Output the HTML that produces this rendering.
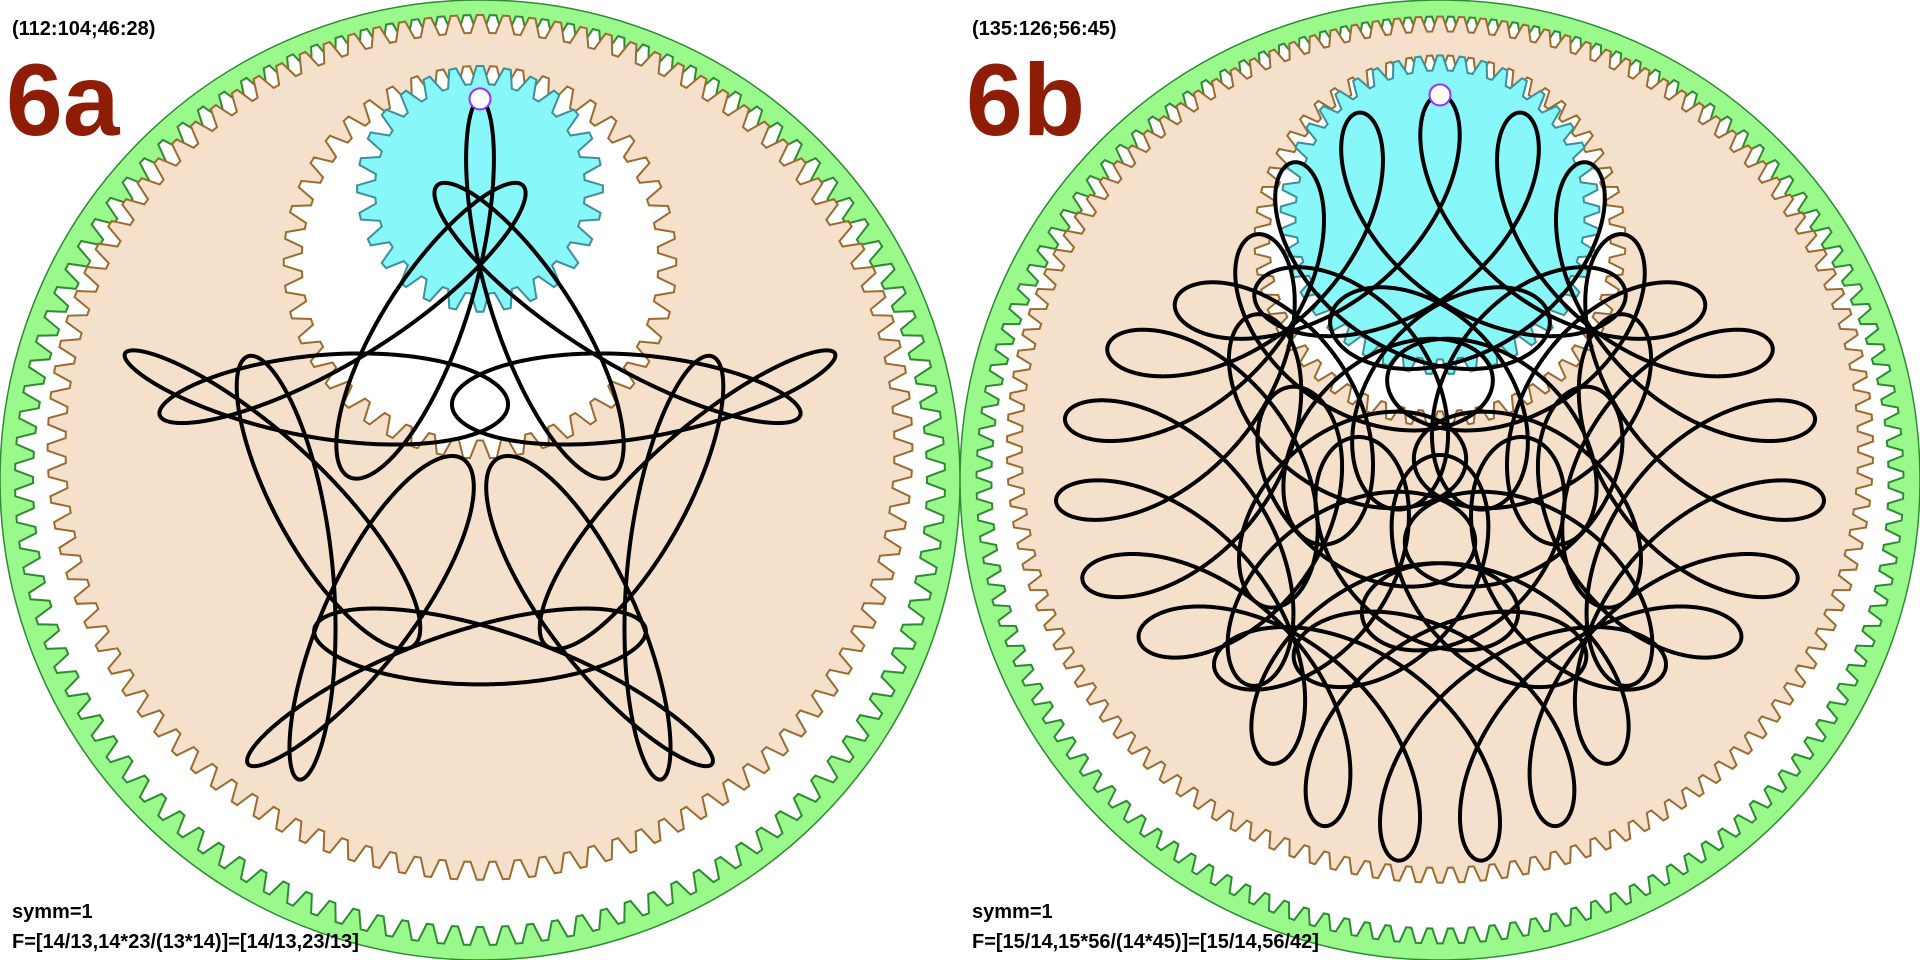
<!DOCTYPE html>
<html><head><meta charset="utf-8">
<style>
html,body{margin:0;padding:0;background:#fff;}
#wrap{position:relative;width:1920px;height:960px;overflow:hidden;}
svg{position:absolute;top:0;}
.lbl{font-family:"Liberation Sans",sans-serif;font-weight:bold;fill:#000;}
.big{font-family:"Liberation Sans",sans-serif;font-weight:bold;fill:#8f1d05;}
</style></head>
<body>
<div id="wrap">
<svg id="pa" width="960" height="960" style="left:0"></svg>
<svg id="pb" width="960" height="960" style="left:960px"></svg>
</div>
<script>
// teeth counts [ring, wheel, hole, pinion]
const teethA = [112, 104, 46, 28];
const teethB = [135, 126, 56, 45];
// frequency ratios F
const freqA = [14/13, 23/13];
const freqB = [15/14, 56/42];
// gear layout [hole eccentricity, pen distance, pinion offset, hole radius] in tooth units
const armsA = [45.5, 22.1, 18, 46];
const armsB = [61.8, 35.5, 7.7, 52.7];
// curve amplitudes [fast arm, slow arm, pen arm] in tooth units
const curveA = [26.0, 45.8, 21.6];
const curveB = [25.2, 53.3, 35.5];
const periodA = 13;
const periodB = 42;
const titleA = "(112:104;46:28)";
const titleB = "(135:126;56:45)";
const nameA = "6a";
const nameB = "6b";
const formulaA = "F=[14/13,14*23/(13*14)]=[14/13,23/13]";
const formulaB = "F=[15/14,15*56/(14*45)]=[15/14,56/42]";

const NS = "http://www.w3.org/2000/svg";
function mk(svg, tag, attrs){
  const e = document.createElementNS(NS, tag);
  for (const k in attrs) e.setAttribute(k, attrs[k]);
  svg.appendChild(e);
  return e;
}
function gearPts(cx, cy, r, n, h, inward){
  const pts = [];
  for (let i = 0; i < n; i++){
    const base = (i / n) * 2 * Math.PI - Math.PI/2;
    const fr = [0, 0.25, 0.5, 0.75];
    const rr = [r - h, r + h, r + h, r - h];
    for (let j = 0; j < 4; j++){
      const a = base + fr[j] * 2 * Math.PI / n - Math.PI / n * 0.75;
      const R = inward ? (2*r - rr[j]) : rr[j];
      pts.push((cx + R*Math.cos(a)).toFixed(2) + "," + (cy + R*Math.sin(a)).toFixed(2));
    }
  }
  return pts.join(" ");
}
function panel(svg, teeth, F, arms, curve, period, title, nm, formula){
  const cx = 480, cy = 480;
  const s = 456 / teeth[0];
  const h = 2.2 * s;
  const A = (teeth[0] - teeth[1]) * s;
  const E = arms[0] * s;
  const d = arms[1] * s;
  const B = arms[2] * s;
  const holeR = arms[3] * s;
  const pinR = holeR - B;
  let el;
  el = mk(svg, "circle", {cx:cx, cy:cy, r:480, fill:"#99f98b", stroke:"#2f8a34", "stroke-width":1.5});
  
  
  el = mk(svg, "polygon", {points:gearPts(cx, cy, teeth[0]*s, teeth[0], h, true), fill:"#ffffff", stroke:"#2f8a34", "stroke-width":2});
  
  
  const tcy = cy - A;
  el = mk(svg, "polygon", {points:gearPts(cx, tcy, teeth[1]*s, teeth[1], h, false), fill:"#f5e1cb", stroke:"#9c6b2e", "stroke-width":2});
  
  
  const hcy = tcy - E;
  el = mk(svg, "polygon", {points:gearPts(cx, hcy, holeR, teeth[2], h, true), fill:"#ffffff", stroke:"#9c6b2e", "stroke-width":2});
  
  
  const pcy = hcy - B;
  el = mk(svg, "polygon", {points:gearPts(cx, pcy, pinR, teeth[3], h, false), fill:"#88f7f9", stroke:"#3d8f9a", "stroke-width":2});
  
  
  // curve
  const c1 = curve[0]*s, c2 = curve[1]*s, c3 = curve[2]*s;
  const w1 = 1, w2 = 1 - F[0], w3 = 1 - F[1];
  const N = period * 400;
  const T = 2 * Math.PI * period;
  let dstr = "";
  for (let i = 0; i <= N; i++){
    const u = T * i / N;
    const a1 = w1*u + Math.PI/2;
    const a2 = w2*u + Math.PI/2;
    const a3 = w3*u + Math.PI/2;
    const x = c1*Math.cos(a1) + c2*Math.cos(a2) + c3*Math.cos(a3);
    const y = c1*Math.sin(a1) + c2*Math.sin(a2) + c3*Math.sin(a3);
    dstr += (i ? "L" : "M") + (cx + x).toFixed(2) + "," + (cy - y).toFixed(2);
  }
  el = mk(svg, "path", {d:dstr, fill:"none", stroke:"#000", "stroke-width":4, "stroke-linejoin":"round"});
  
  
  el = mk(svg, "circle", {cx:cx, cy:pcy - d, r:10.5, fill:"#fff", stroke:"#9b30ff", "stroke-width":2});
  
  
  el = mk(svg, "text", {x:12, y:35, "font-size":20, class:"lbl"});
  el.textContent = title;
  
  
  el = mk(svg, "text", {x:6, y:135, "font-size":102, class:"big"});
  el.textContent = nm;
  
  
  el = mk(svg, "text", {x:12, y:918, "font-size":20, class:"lbl"});
  el.textContent = "symm=1";
  
  
  el = mk(svg, "text", {x:12, y:948, "font-size":20, class:"lbl"});
  el.textContent = formula;
  
  
}
panel(document.getElementById("pa"), teethA, freqA, armsA, curveA, periodA, titleA, nameA, formulaA);
panel(document.getElementById("pb"), teethB, freqB, armsB, curveB, periodB, titleB, nameB, formulaB);
</script>
</body></html>
